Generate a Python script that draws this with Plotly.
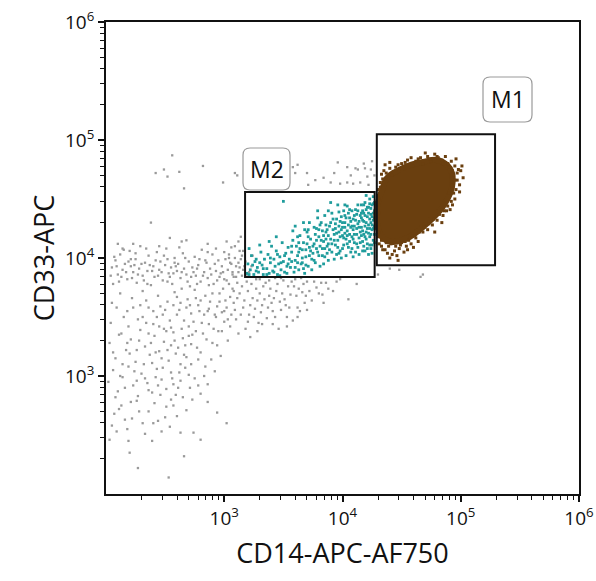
import numpy as np
import plotly.graph_objects as go

# ---- data (log10 of fluorescence) ----
grey_log10 = [
    # upper-left row around 10^4
    (2.05,3.92),(2.08,3.98),(2.10,3.86),(2.12,4.03),(2.14,3.90),(2.16,3.95),(2.18,3.82),(2.20,4.06),(2.21,3.93),
    (2.23,3.88),(2.25,3.99),(2.26,3.79),(2.28,3.91),(2.29,4.10),(2.31,3.85),(2.33,3.96),(2.35,3.89),(2.36,4.02),
    (2.38,3.77),(2.40,3.93),(2.41,3.84),(2.43,4.05),(2.45,3.90),(2.46,3.97),(2.48,3.81),(2.50,3.94),(2.51,4.08),
    (2.53,3.87),(2.55,3.92),(2.56,3.78),(2.58,4.00),(2.60,3.89),(2.61,3.95),(2.63,3.83),(2.65,4.04),(2.66,3.91),
    (2.68,3.86),(2.70,3.97),(2.71,3.76),(2.73,3.92),(2.75,4.01),(2.76,3.85),(2.78,3.94),(2.80,3.80),(2.81,4.07),
    (2.83,3.88),(2.85,3.96),(2.86,3.83),(2.88,3.91),(2.90,4.03),(2.91,3.78),(2.93,3.89),(2.95,3.98),(2.96,3.84),
    (2.98,3.93),(3.00,4.05),(3.02,3.81),(3.03,3.90),(3.05,3.96),(3.07,3.86),(3.09,4.00),(3.11,3.79),(3.13,3.92),
    (3.15,3.85),(3.18,3.97),(3.21,3.88),(3.24,4.02),(2.11,3.80),(2.19,3.97),(2.27,3.86),(2.34,4.08),(2.44,3.85),
    (2.52,3.99),(2.62,4.09),(2.69,3.80),(2.79,3.99),(2.87,3.77),(2.97,3.87),(3.06,4.09),(2.24,3.94),(2.39,3.89),
    (2.57,3.87),(2.74,3.88),(2.92,3.95),(3.01,3.99),
    (2.04,3.85),(2.07,4.01),(2.09,3.93),(2.13,3.84),(2.15,4.07),(2.17,3.88),(2.22,3.83),(2.25,4.04),(2.30,3.95),
    (2.32,3.81),(2.37,3.94),(2.42,3.98),(2.47,3.88),(2.49,4.02),(2.54,3.84),(2.59,3.93),(2.64,3.88),(2.67,4.00),
    (2.72,3.84),(2.77,3.91),(2.82,3.85),(2.84,3.98),(2.89,3.86),(2.94,3.81),(2.99,3.88),(3.04,4.03),(3.08,3.84),
    (3.10,3.93),(3.14,3.99),(3.19,3.86),(3.23,3.93),(2.06,3.78),(2.35,3.78),(2.52,3.80),(2.77,3.78),(3.16,4.06),
    (2.58,3.96),(2.86,4.05),(2.45,4.10),(2.21,3.99),
    # lower-left cloud
    (2.05,3.62),(2.12,3.70),(2.18,3.55),(2.22,3.66),(2.27,3.48),(2.31,3.72),(2.36,3.58),(2.40,3.44),(2.44,3.68),
    (2.48,3.52),(2.52,3.63),(2.55,3.41),(2.58,3.71),(2.62,3.56),(2.66,3.47),(2.69,3.65),(2.72,3.53),(2.75,3.73),
    (2.78,3.60),(2.81,3.45),(2.84,3.68),(2.87,3.57),(2.90,3.70),(2.93,3.50),(2.96,3.63),(2.99,3.74),(3.02,3.58),
    (3.05,3.67),(2.34,3.64),(2.46,3.59),(2.60,3.67),(2.70,3.42),(2.83,3.52),(2.94,3.59),(3.08,3.72),(2.64,3.74),
    (2.76,3.66),(2.88,3.63),
    (2.03,3.28),(2.08,3.15),(2.13,3.36),(2.17,3.22),(2.21,3.31),(2.25,3.12),(2.29,3.39),(2.33,3.25),(2.37,3.18),
    (2.41,3.34),(2.45,3.21),(2.49,3.29),(2.53,3.13),(2.57,3.37),(2.61,3.24),(2.65,3.32),(2.68,3.16),(2.72,3.27),
    (2.76,3.38),(2.80,3.20),(2.85,3.31),(2.89,3.14),(2.94,3.26),(2.39,3.11),(2.51,3.38),(2.63,3.10),(2.47,3.15),
    (2.59,3.19),(2.73,3.35),
    (2.02,2.95),(2.06,3.05),(2.10,2.87),(2.14,2.99),(2.19,3.08),(2.23,2.92),(2.27,2.83),(2.30,3.02),(2.35,2.94),
    (2.39,2.86),(2.43,3.06),(2.47,2.97),(2.51,2.89),(2.55,3.03),(2.59,2.84),(2.63,2.96),(2.67,3.07),(2.71,2.90),
    (2.75,2.98),(2.80,2.85),(2.86,2.93),(2.92,3.04),(2.26,2.96),(2.42,2.99),(2.57,2.93),(2.08,2.82),(2.70,3.01),
    (2.03,2.46),(2.07,2.68),(2.09,2.53),(2.13,2.75),(2.18,2.55),(2.22,2.64),(2.26,2.79),(2.31,2.60),(2.36,2.70),
    (2.39,2.45),(2.44,2.62),(2.47,2.53),(2.51,2.74),(2.54,2.57),(2.60,2.66),(2.63,2.52),(2.68,2.71),(2.74,2.52),
    (2.80,2.46),(2.86,2.78),(2.94,2.69),(2.57,2.75),(2.33,2.51),(2.16,2.63),
    (2.27,2.22),(2.53,2.14),(2.66,2.32),(3.02,2.60),(2.20,2.35),
    (2.04,3.45),(2.06,3.20),(2.09,3.58),(2.11,3.35),(2.14,3.10),(2.15,3.50),(2.19,3.42),(2.20,3.19),(2.23,3.58),
    (2.24,3.04),(2.28,3.30),(2.29,3.60),(2.32,3.10),(2.34,3.45),(2.36,2.88),(2.38,3.28),(2.40,3.55),(2.42,3.20),
    (2.44,2.92),(2.45,3.42),(2.48,3.07),(2.50,3.56),(2.52,3.22),(2.54,3.47),(2.56,2.98),(2.58,3.30),(2.60,3.52),
    (2.62,3.03),(2.64,3.40),(2.66,3.18),(2.68,3.58),(2.70,3.34),(2.72,3.10),(2.74,3.46),(2.77,3.24),(2.79,3.55),
    (2.82,3.36),(2.84,3.08),(2.87,3.44),(2.90,3.28),(2.92,3.52),(2.95,3.38),(2.97,3.17),(3.00,3.46),(3.03,3.30),
    (2.16,2.90),(2.21,2.78),(2.28,2.70),(2.33,2.98),(2.41,2.77),(2.46,2.84),(2.50,2.65),(2.55,2.80),(2.61,2.90),
    (2.65,2.82),(2.73,2.80),(2.78,2.92),(2.83,3.00),(2.11,2.72),(2.05,2.58),(2.12,3.00),(2.18,3.28),(2.26,3.22),
    (2.31,3.50),(2.43,3.50),(2.49,3.40),(2.57,3.60),(2.63,3.62),(2.71,3.60),(2.80,3.64),(2.86,3.55),(2.91,3.40),
    (2.98,3.54),(3.06,3.52),(2.36,3.36),(2.55,3.26),(2.67,3.26),(2.78,3.14),(2.19,2.45),(2.40,2.60),
    # diagonal band toward the M2 gate
    (3.00,3.55),(3.04,3.78),(3.08,3.62),(3.10,3.48),(3.13,3.70),(3.16,3.58),(3.19,3.80),(3.21,3.52),(3.24,3.66),
    (3.27,3.74),(3.29,3.45),(3.32,3.60),(3.35,3.79),(3.38,3.68),(3.41,3.55),(3.44,3.72),(3.47,3.63),(3.50,3.81),
    (3.53,3.50),(3.56,3.69),(3.59,3.76),(3.62,3.58),(3.66,3.71),(3.70,3.80),(3.74,3.64),(3.78,3.75),(3.83,3.69),
    (3.12,3.88),(3.06,3.95),(3.15,4.02),(3.09,4.10),(3.17,3.93),(3.02,4.14),(3.14,4.18),(3.26,3.57),(3.36,3.49),
    (3.46,3.40),(3.58,3.47),(3.18,3.40),(3.05,3.42),(2.98,3.38),(3.22,3.33),(3.40,3.62),(3.52,3.60),(3.30,3.82),
    (3.43,3.83),(3.60,3.82),(3.68,3.62),(3.86,3.79),(3.92,3.72),
    (2.96,3.70),(3.01,3.64),(3.03,3.48),(3.07,3.74),(3.09,3.56),(3.11,3.66),(3.14,3.52),(3.15,3.76),(3.17,3.64),
    (3.20,3.72),(3.22,3.60),(3.23,3.78),(3.25,3.50),(3.28,3.64),(3.30,3.70),(3.31,3.54),(3.33,3.76),(3.34,3.65),
    (3.37,3.58),(3.39,3.74),(3.42,3.66),(3.43,3.50),(3.45,3.78),(3.48,3.56),(3.49,3.70),(3.51,3.65),(3.54,3.76),
    (3.55,3.58),(3.57,3.80),(3.61,3.68),(3.63,3.74),(3.64,3.55),(3.67,3.78),(3.69,3.68),(3.72,3.72),(3.76,3.80),
    (3.80,3.70),(3.82,3.79),(3.88,3.74),(3.95,3.80),(3.10,3.84),(3.12,3.96),(3.07,3.88),(3.04,4.00),(3.13,4.06),
    (3.16,3.90),(3.00,3.82),(3.27,3.82),(3.38,3.81),(3.48,3.83),(3.65,3.83),(3.20,3.46),(3.32,3.44),(3.41,3.44),
    (3.53,3.42),(3.12,3.36),(3.28,3.38),(3.70,3.56),(3.84,3.62),(3.62,3.50),
    (3.98,3.82),(4.12,3.78),(4.30,3.86),(4.40,3.91),(4.48,3.90),(4.05,3.65),(4.68,3.86),(4.66,3.84),
    # above the M2 gate
    (3.62,4.79),(3.70,4.72),(3.96,4.81),(4.04,4.77),(4.13,4.75),(4.04,4.64),(3.98,4.63),(4.09,4.63),(4.15,4.64),
    (4.21,4.69),(3.90,4.64),(3.84,4.68),(3.58,4.77),(4.11,4.76),(4.19,4.76),(4.18,4.80),(4.24,4.75),(4.22,4.62),
    (3.77,4.66),(3.71,4.62),(4.27,4.70),(4.25,4.82),(3.93,4.72),(4.07,4.70),(3.60,4.72),
    # sparse outliers
    (2.56,4.87),(2.49,4.75),(2.42,4.72),(2.62,4.73),(2.52,4.69),(2.82,4.78),(2.66,4.59),(2.99,4.64),(3.11,4.70),
    (2.38,4.30),(2.54,4.17),(2.68,4.15),(2.64,4.14),(2.10,4.12),(2.14,4.08),(2.23,4.12),(2.86,4.12),(2.93,4.08),
    (3.12,4.14),(3.09,4.72),
]

m2_cells_log10 = [
    (3.19,3.87),(3.20,3.95),(3.22,3.90),(3.23,4.02),(3.25,3.86),(3.26,3.97),(3.28,3.92),(3.29,3.88),(3.31,4.05),
    (3.32,3.94),(3.33,3.86),(3.34,3.99),(3.21,4.08),(3.30,4.11),(3.27,3.89),
    (3.36,3.91),(3.37,4.03),(3.38,3.87),(3.39,3.96),(3.40,4.10),(3.41,3.89),(3.42,3.99),(3.43,3.93),(3.44,4.06),
    (3.45,3.86),(3.46,3.95),(3.47,4.01),(3.48,3.90),(3.49,4.13),(3.50,3.97),(3.51,3.88),(3.52,4.04),(3.53,3.93),
    (3.54,4.09),(3.55,3.99),(3.44,4.18),(3.38,4.14),(3.50,4.48),(3.47,3.85),(3.53,3.87),
    (3.56,3.92),(3.57,4.05),(3.58,4.15),(3.59,3.88),(3.60,3.98),(3.61,4.10),(3.62,4.02),(3.63,3.90),(3.64,4.19),
    (3.65,3.95),(3.66,4.07),(3.67,4.13),(3.68,3.87),(3.69,4.01),(3.70,4.22),(3.71,3.93),(3.72,4.09),(3.73,4.16),
    (3.74,3.99),(3.75,4.04),(3.58,4.23),(3.62,3.96),(3.66,4.00),(3.70,4.12),(3.74,3.90),(3.60,4.27),(3.68,4.24),
    (3.72,4.30),(3.64,4.08),(3.57,3.97),(3.69,3.94),(3.73,4.06),(3.63,4.13),(3.67,3.91),(3.71,4.18),
    (3.76,4.12),(3.77,3.96),(3.78,4.25),(3.79,4.05),(3.80,4.18),(3.81,3.93),(3.82,4.30),(3.83,4.08),(3.84,4.14),
    (3.85,4.01),(3.86,4.22),(3.87,4.10),(3.88,3.98),(3.89,4.27),(3.90,4.16),(3.91,4.05),(3.92,4.33),(3.93,4.20),
    (3.94,4.11),(3.95,4.03),(3.77,4.20),(3.80,4.02),(3.83,4.23),(3.86,4.16),(3.89,4.07),(3.92,4.24),(3.79,4.34),
    (3.85,4.36),(3.90,4.47),(3.81,4.10),(3.84,3.95),(3.88,4.19),(3.91,4.12),(3.94,4.29),(3.78,4.08),(3.87,4.04),
    (3.93,3.99),(3.82,4.15),(3.76,3.98),(3.95,4.21),
    (3.96,4.15),(3.97,4.27),(3.98,4.06),(3.99,4.35),(4.00,4.19),(4.01,4.11),(4.02,4.30),(4.03,4.02),(4.04,4.23),
    (4.05,4.38),(4.06,4.14),(4.07,4.26),(4.08,4.08),(4.09,4.33),(4.10,4.20),(4.11,4.41),(4.12,4.12),(4.13,4.29),
    (4.14,4.17),(4.15,4.36),(3.97,4.22),(3.99,4.00),(4.01,4.40),(4.03,4.16),(4.05,4.28),(4.07,4.05),(4.09,4.24),
    (4.11,4.32),(4.13,4.09),(4.15,4.22),(3.98,4.31),(4.00,4.08),(4.02,4.21),(4.04,4.44),(4.06,4.34),(4.08,4.18),
    (4.10,4.27),(4.12,4.37),(4.14,4.03),(3.96,4.09),(4.00,4.26),(4.04,4.12),(4.08,4.40),(4.12,4.25),(4.06,4.20),
    (4.10,4.13),(4.02,4.36),(4.14,4.31),(4.09,4.01),(3.97,4.39),
    (4.16,4.26),(4.17,4.14),(4.17,4.40),(4.18,4.31),(4.19,4.06),(4.19,4.47),(4.20,4.22),(4.21,4.35),(4.21,4.12),
    (4.22,4.43),(4.22,4.28),(4.23,4.18),(4.23,4.50),(4.24,4.37),(4.24,4.08),(4.25,4.24),(4.25,4.45),(4.26,4.32),
    (4.26,4.15),(4.27,4.40),(4.27,4.27),(4.16,4.34),(4.18,4.20),(4.20,4.41),(4.22,4.03),(4.24,4.30),(4.26,4.52),
    (4.16,4.45),(4.18,4.38),(4.20,4.16),(4.23,4.33),(4.25,4.11),(4.27,4.20),(4.21,4.25),(4.19,4.36),(4.17,4.23),
    (4.24,4.42),(4.26,4.38),(4.20,4.53),(4.22,4.21),(4.18,4.10),(4.25,4.35),(4.23,4.25),(4.27,4.47),(4.16,4.19),
    (3.80,4.24),(3.83,4.02),(3.86,4.28),(3.88,4.12),(3.91,4.38),(3.93,4.15),(3.95,4.33),(3.97,4.04),(3.99,4.24),
    (4.01,4.17),(4.03,4.34),(4.05,4.09),(4.07,4.31),(4.09,4.16),(4.11,4.05),(4.13,4.40),(4.15,4.13),(4.17,4.32),
    (4.19,4.27),(4.21,4.43),(4.23,4.11),(4.25,4.28),(4.26,4.46),(4.27,4.13),(4.00,4.30),(4.04,4.19),(4.08,4.27),
    (4.12,4.20),(4.16,4.38),(4.20,4.30),(4.24,4.20),(4.26,4.25),(4.18,4.45),(4.22,4.38),(4.14,4.26),(4.10,4.36),
    (4.06,4.41),(4.02,4.26),(3.98,4.18),(3.94,4.25),(3.90,4.30),(3.87,4.24),(3.84,4.19),(3.81,4.28),(3.78,4.15),
    (3.75,4.10),(3.72,4.02),(3.69,4.07),(3.66,3.96),(3.63,4.05),(3.60,3.92),(3.57,4.10),(3.54,3.95),(3.51,4.02),
    (3.48,3.96),(3.45,4.03),(3.42,3.88),(3.39,4.00),(3.36,3.86),(3.33,3.91),(3.30,3.96),(3.27,3.99),(3.24,3.94),
    (3.21,3.86),(3.62,4.18),(3.76,4.26),(3.71,4.24),(3.85,4.08),(3.96,4.45),(4.19,4.18),(4.21,4.08),(4.25,4.04),
    (4.27,4.34),(4.23,4.46),(4.17,4.06),(4.13,4.45),(4.02,4.45),(3.88,4.40),(3.79,4.40),(3.67,4.30),
]

# dense M1 population: outline of the saturated core + scattered edge events
m1_core_outline_log10 = [
    (4.444,4.729),(4.571,4.788),(4.681,4.814),(4.799,4.831),(4.884,4.788),(4.926,4.720),(4.926,4.602),
    (4.892,4.508),(4.841,4.424),(4.765,4.339),(4.681,4.263),(4.596,4.195),(4.512,4.153),(4.419,4.136),
    (4.334,4.178),(4.292,4.297),(4.292,4.432),(4.334,4.576),(4.376,4.678),(4.444,4.729),
]
m1_edge_log10 = [
    (4.36,4.79),(4.40,4.81),(4.45,4.77),(4.50,4.80),(4.55,4.83),(4.60,4.78),(4.64,4.84),(4.68,4.80),(4.72,4.86),
    (4.75,4.82),(4.78,4.88),(4.81,4.85),(4.84,4.83),(4.87,4.86),(4.89,4.80),(4.58,4.85),(4.70,4.89),(4.48,4.75),
    (4.92,4.82),(4.95,4.78),(4.98,4.75),(5.00,4.74),(4.94,4.70),(4.97,4.66),(4.96,4.58),(4.99,4.56),(4.93,4.62),
    (4.95,4.50),(4.93,4.45),(4.91,4.41),(4.97,4.72),(4.90,4.55),(5.02,4.68),
    (4.88,4.40),(4.85,4.36),(4.80,4.32),(4.76,4.28),(4.72,4.24),(4.68,4.22),(4.84,4.30),(4.78,4.22),
    (4.62,4.17),(4.58,4.12),(4.60,4.09),(4.54,4.10),(4.52,4.05),(4.48,4.08),(4.47,3.98),(4.44,4.06),(4.42,4.03),
    (4.39,4.10),(4.36,4.07),(4.34,4.07),(4.31,4.12),(4.56,4.15),(4.50,4.13),(4.40,4.00),(4.64,4.14),
    (4.30,4.18),(4.29,4.25),(4.30,4.33),(4.29,4.42),(4.31,4.50),(4.30,4.58),(4.32,4.64),(4.33,4.71),(4.35,4.74),
    (4.31,4.38),(4.30,4.47),
    (4.40,4.76),(4.47,4.79),(4.53,4.81),(4.62,4.82),(4.66,4.85),(4.74,4.84),(4.80,4.86),(4.85,4.80),(4.90,4.77),
    (4.93,4.74),(4.95,4.66),(4.94,4.55),(4.92,4.48),(4.89,4.44),(4.86,4.40),(4.82,4.37),(4.77,4.33),(4.73,4.29),
    (4.69,4.26),(4.65,4.22),(4.61,4.19),(4.57,4.17),(4.53,4.14),(4.49,4.11),(4.45,4.10),(4.41,4.12),(4.37,4.13),
    (4.33,4.15),(4.31,4.22),(4.29,4.30),(4.29,4.37),(4.29,4.45),(4.30,4.53),(4.32,4.60),(4.34,4.67),(4.37,4.72),
    (4.42,4.70),(4.99,4.62),(5.01,4.78),(4.96,4.84),(4.46,4.02),(4.38,4.04),(4.55,4.07),(4.33,4.10),
]

# gates (fluorescence units)
m1_gate_x = [19500, 195000]
m1_gate_y = [8700, 112000]
m2_gate_x = [1500, 18700]
m2_gate_y = [6900, 36200]
gate_names = ["M1", "M2"]

tick_values = [1e3, 1e4, 1e5, 1e6]
tick_labels = ["10<sup>3</sup>", "10<sup>4</sup>", "10<sup>5</sup>", "10<sup>6</sup>"]
x_title = "CD14-APC-AF750"
y_title = "CD33-APC"

GREY = "#9a9a9a"
TEAL = "#1f9c9c"
BROWN = "#6a3f0f"
FONT = "Open Sans"

L, T, W, H = 106, 22, 473, 472  # plot area in pixels


def unpack(pairs):
    a = np.array(pairs, dtype=float)
    return np.power(10.0, a[:, 0]), np.power(10.0, a[:, 1])


fig = go.Figure()
gx, gy = unpack(grey_log10)
fig.add_trace(go.Scatter(x=gx, y=gy, mode="markers",
                         marker=dict(size=2.3, color=GREY, symbol="square"), hoverinfo="skip"))
tx, ty = unpack(m2_cells_log10)
fig.add_trace(go.Scatter(x=tx, y=ty, mode="markers",
                         marker=dict(size=2.8, color=TEAL, symbol="square"), hoverinfo="skip"))
cx, cy = unpack(m1_core_outline_log10)
fig.add_trace(go.Scatter(x=cx, y=cy, mode="lines", fill="toself", fillcolor=BROWN,
                         line=dict(color=BROWN, width=6, shape="spline", smoothing=1.0), hoverinfo="skip"))
ex, ey = unpack(m1_edge_log10)
fig.add_trace(go.Scatter(x=ex, y=ey, mode="markers",
                         marker=dict(size=3.0, color=BROWN, symbol="square"), hoverinfo="skip"))

# gate rectangles
for gxr, gyr in [(m1_gate_x, m1_gate_y), (m2_gate_x, m2_gate_y)]:
    fig.add_shape(type="rect", xref="x", yref="y", x0=gxr[0], x1=gxr[1], y0=gyr[0], y1=gyr[1],
                  line=dict(color="#111111", width=2), fillcolor="rgba(0,0,0,0)")


def rounded_box(x0, y0, x1, y1, r):
    px = lambda v: (v - L) / W
    py = lambda v: (T + H - v) / H
    rx, ry = r / W, r / H
    X0, X1, Y0, Y1 = px(x0), px(x1), py(y1), py(y0)
    return (f"M {X0+rx},{Y0} L {X1-rx},{Y0} Q {X1},{Y0} {X1},{Y0+ry} L {X1},{Y1-ry} "
            f"Q {X1},{Y1} {X1-rx},{Y1} L {X0+rx},{Y1} Q {X0},{Y1} {X0},{Y1-ry} L {X0},{Y0+ry} "
            f"Q {X0},{Y0} {X0+rx},{Y0} Z")


label_boxes = {"M1": (483, 77, 532, 122), "M2": (243, 148, 290, 190)}
for name in gate_names:
    x0, y0, x1, y1 = label_boxes[name]
    fig.add_shape(type="path", xref="paper", yref="paper", path=rounded_box(x0, y0, x1, y1, 7),
                  line=dict(color="#9a9a9a", width=1.2), fillcolor="white")
    fig.add_annotation(xref="paper", yref="paper", x=((x0 + x1) / 2 - L) / W,
                       y=(T + H - (y0 + y1) / 2) / H, xanchor="center", yanchor="middle",
                       text=name, showarrow=False,
                       font=dict(family=FONT, size=23, color="#111111"))

minor_vals = [m * 10 ** k for k in range(2, 6) for m in range(2, 10)]
axis_common = dict(type="log", range=[2, 6], showgrid=False, zeroline=False, automargin=False,
                   showline=True, linecolor="#111111", linewidth=1.8, mirror=True,
                   ticks="outside", ticklen=6, tickwidth=1.5, tickcolor="#111111",
                   tickvals=tick_values, ticktext=tick_labels,
                   tickfont=dict(family=FONT, size=19, color="#111111"),
                   minor=dict(tickvals=minor_vals, ticks="outside", ticklen=4,
                              tickwidth=1.3, tickcolor="#111111", showgrid=False))
fig.update_xaxes(**axis_common,
                 title=dict(text=x_title, font=dict(family=FONT, size=27, color="#111111"),
                            standoff=14))
fig.update_yaxes(**axis_common,
                 title=dict(text=y_title, font=dict(family=FONT, size=27, color="#111111"),
                            standoff=3))
fig.update_layout(width=596, height=581, margin=dict(l=L, r=596 - L - W, t=T, b=581 - T - H),
                  plot_bgcolor="white", paper_bgcolor="white", showlegend=False)

fig.write_html("out.html")
